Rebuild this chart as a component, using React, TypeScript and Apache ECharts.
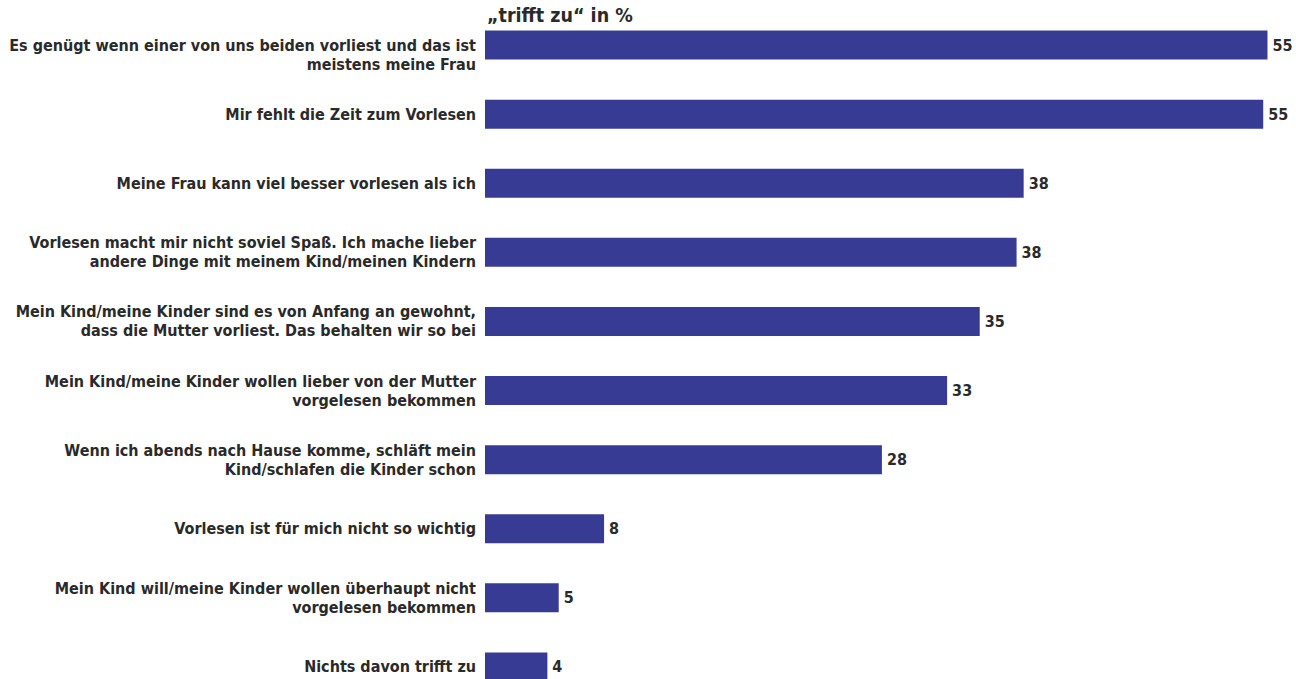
import React, { useEffect, useRef } from "react";
import * as echarts from "echarts";

const categories = [
  "Es genügt wenn einer von uns beiden vorliest und das ist\nmeistens meine Frau",
  "Mir fehlt die Zeit zum Vorlesen",
  "Meine Frau kann viel besser vorlesen als ich",
  "Vorlesen macht mir nicht soviel Spaß. Ich mache lieber\nandere Dinge mit meinem Kind/meinen Kindern",
  "Mein Kind/meine Kinder sind es von Anfang an gewohnt,\ndass die Mutter vorliest. Das behalten wir so bei",
  "Mein Kind/meine Kinder wollen lieber von der Mutter\nvorgelesen bekommen",
  "Wenn ich abends nach Hause komme, schläft mein\nKind/schlafen die Kinder schon",
  "Vorlesen ist für mich nicht so wichtig",
  "Mein Kind will/meine Kinder wollen überhaupt nicht\nvorgelesen bekommen",
  "Nichts davon trifft zu",
];

const values = [55.2, 54.9, 38.0, 37.5, 34.9, 32.6, 28.0, 8.4, 5.2, 4.4];

const titleText = "„trifft zu“ in %";

const FONT = "'DejaVu Sans Condensed', 'DejaVu Sans', sans-serif";

export default function App() {
  const ref = useRef<HTMLDivElement>(null);
  useEffect(() => {
    if (!ref.current) return;
    const chart = echarts.init(ref.current, undefined, { renderer: "svg" });
    chart.setOption({
      animation: false,
      backgroundColor: "#ffffff",
      graphic: [
        {
          type: "text",
          left: 487,
          top: 5,
          style: {
            text: titleText,
            font: `700 19.5px ${FONT}`,
            fill: "#2a2a2a",
          },
        },
      ],
      grid: { left: 485, top: 10.5, width: 808, height: 691, containLabel: false },
      xAxis: {
        type: "value",
        min: 0,
        max: 57,
        show: false,
      },
      yAxis: {
        type: "category",
        inverse: true,
        data: categories,
        axisLine: { show: false },
        axisTick: { show: false },
        splitLine: { show: false },
        axisLabel: {
          margin: 9,
          fontFamily: FONT,
          fontWeight: 700,
          fontSize: 16,
          lineHeight: 19,
          color: "#2a2a2a",
          align: "right",
          formatter: (v: string, i: number) => (i === 0 ? "\n" + v : v),
        },
      },
      series: [
        {
          type: "bar",
          data: values,
          barWidth: 29,
          itemStyle: { color: "#373B93" },
          label: {
            show: true,
            position: "right",
            distance: 5,
            fontFamily: FONT,
            fontWeight: 700,
            fontSize: 16,
            color: "#2a2a2a",
            formatter: (p: any) => Math.round(p.value).toString(),
          },
        },
      ],
    });
    return () => chart.dispose();
  }, []);
  return (
    <div
      style={{
        position: "absolute",
        left: 0,
        top: 0,
        width: 1296,
        height: 679,
        overflow: "hidden",
        background: "#fff",
      }}
    >
      <div ref={ref} style={{ width: 1296, height: 710 }} />
    </div>
  );
}
